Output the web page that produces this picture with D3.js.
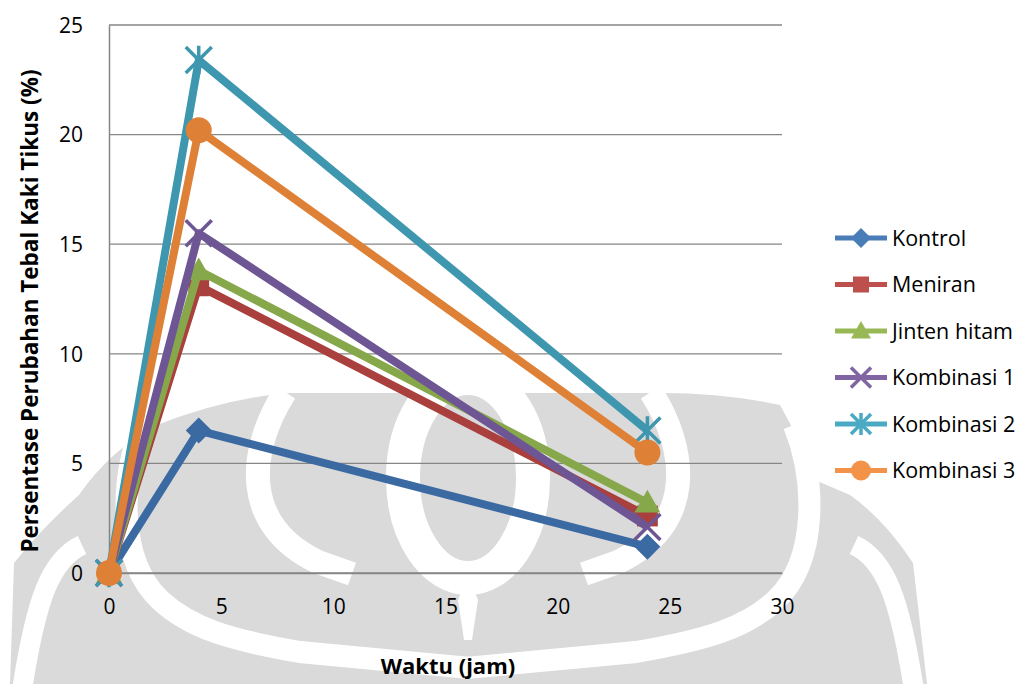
<!DOCTYPE html>
<html>
<head>
<meta charset="utf-8">
<script src="https://cdn.jsdelivr.net/npm/d3@7"></script>
<style>
  body { margin: 0; background: #fff; }
  svg text { font-family: "Open Sans", "Liberation Sans", sans-serif; fill: #000; }
</style>
</head>
<body>
<svg id="chart" width="1028" height="684"></svg>
<script>
// hours after induction
const hours = [0, 4, 24];
const seriesNames = ["Kontrol", "Meniran", "Jinten hitam", "Kombinasi 1", "Kombinasi 2", "Kombinasi 3"];
const kontrol = [0, 6.5, 1.2];
const meniran = [0, 13.1, 2.6];
const jintenHitam = [0, 13.8, 3.2];
const kombinasi1 = [0, 15.5, 2.1];
const kombinasi2 = [0, 23.4, 6.5];
const kombinasi3 = [0, 20.2, 5.5];
const xTicks = [0, 5, 10, 15, 20, 25, 30];
const yTicks = [0, 5, 10, 15, 20, 25];

const lineColors = ["#3b6aa3", "#a9403e", "#86a84b", "#6e5593", "#3e97af", "#de8136"];
const legendColors = ["#4a7cb8", "#bd4f4c", "#98b856", "#8065a2", "#4aaac4", "#f3934a"];
const shapes = ["diamond", "square", "triangle", "x", "star", "circle"];

const values = [kontrol, meniran, jintenHitam, kombinasi1, kombinasi2, kombinasi3];
const series = seriesNames.map((name, i) => ({
  name,
  color: lineColors[i],
  legendColor: legendColors[i],
  shape: shapes[i],
  points: hours.map((h, j) => ({ x: h, y: values[i][j] })),
}));

const svg = d3.select("#chart");
const margin = { left: 109, right: 246, top: 25, bottom: 111 };
const width = 1028, height = 684;

const x = d3.scaleLinear().domain([0, 30]).range([margin.left, width - margin.right]);
const y = d3.scaleLinear().domain([0, 25]).range([height - margin.bottom, margin.top]);

// faint page watermark behind the chart (rough copy of the logo)
const wm = svg.append("g");
wm.append("path")
  .attr("d", "M10,684 L14,563 Q40,530 79,495 Q110,450 157,425 Q220,400 285,393 " +
    "L653,393 Q720,392 780,405 Q800,440 815,480 L850,495 Q885,520 913,563 L927,684 Z")
  .attr("fill", "#dadada");
const wmWhite = (g) => {
  // inner C-shaped band
  g.append("path")
    .attr("d", "M285,392 C248,450 240,525 318,562 L352,574")
    .attr("fill", "none").attr("stroke", "#fff").attr("stroke-width", 24);
  // outer band
  g.append("path")
    .attr("d", "M142,425 C120,480 118,560 160,600 C190,628 230,640 300,652 L470,668")
    .attr("fill", "none").attr("stroke", "#fff").attr("stroke-width", 22);
  // far band
  g.append("path")
    .attr("d", "M82,545 C50,560 36,600 22,690")
    .attr("fill", "none").attr("stroke", "#fff").attr("stroke-width", 20);
};
wm.append("g").call(wmWhite);
wm.append("g").attr("transform", "translate(936,0) scale(-1,1)").call(wmWhite);
// central seed
wm.append("ellipse")
  .attr("cx", 468).attr("cy", 478).attr("rx", 65).attr("ry", 100)
  .attr("fill", "none").attr("stroke", "#fff").attr("stroke-width", 34);
wm.append("path")
  .attr("d", "M468,575 L478,600 L472,640 L464,640 L458,600 Z")
  .attr("fill", "#fff");

// gridlines
svg.append("g")
  .selectAll("line")
  .data(yTicks)
  .join("line")
  .attr("x1", x(0))
  .attr("x2", x(30))
  .attr("y1", (d) => y(d))
  .attr("y2", (d) => y(d))
  .attr("stroke", "#868686")
  .attr("stroke-width", 1.3);

// y axis
const yAxis = d3.axisLeft(y).tickValues(yTicks).tickSize(0).tickPadding(26);
svg.append("g")
  .attr("transform", `translate(${x(0)},0)`)
  .call(yAxis)
  .call((g) => {
    g.select(".domain").attr("stroke", "#868686").attr("stroke-width", 1.5);
    g.selectAll(".tick text").style("font-size", "21px").attr("dy", "0.35em");
  });

// x axis
const xAxis = d3.axisBottom(x).tickValues(xTicks).tickSize(0).tickPadding(26);
svg.append("g")
  .attr("transform", `translate(0,${y(0)})`)
  .call(xAxis)
  .call((g) => {
    g.select(".domain").attr("stroke", "#868686").attr("stroke-width", 1.5);
    g.selectAll(".tick text").style("font-size", "21px");
  });

// axis titles
svg.append("text")
  .attr("transform", `translate(38,${(y(0) + y(25)) / 2 + 12}) rotate(-90)`)
  .attr("text-anchor", "middle")
  .style("font-size", "22.5px")
  .style("font-weight", "bold")
  .text("Persentase Perubahan Tebal Kaki Tikus (%)");

svg.append("text")
  .attr("x", 448)
  .attr("y", 674)
  .attr("text-anchor", "middle")
  .style("font-size", "22px")
  .style("font-weight", "bold")
  .text("Waktu (jam)");

// marker drawing
const drawMarker = (sel, shape, color, s) => {
  if (shape === "diamond") {
    sel.append("path").attr("d", `M0,${-s}L${s},0L0,${s}L${-s},0Z`).attr("fill", color);
  } else if (shape === "square") {
    sel.append("rect").attr("x", -s * 0.8).attr("y", -s * 0.8)
      .attr("width", s * 1.6).attr("height", s * 1.6).attr("fill", color);
  } else if (shape === "triangle") {
    sel.append("path").attr("d", `M0,${-s}L${s},${s * 0.75}L${-s},${s * 0.75}Z`).attr("fill", color);
  } else if (shape === "x") {
    sel.append("path").attr("d", `M${-s},${-s}L${s},${s}M${-s},${s}L${s},${-s}`)
      .attr("stroke", color).attr("stroke-width", 3.5);
  } else if (shape === "star") {
    sel.append("path")
      .attr("d", `M${-s},${-s}L${s},${s}M${-s},${s}L${s},${-s}M0,${-s * 1.1}L0,${s * 1.1}`)
      .attr("stroke", color).attr("stroke-width", 3.5);
  } else {
    sel.append("circle").attr("r", s).attr("fill", color);
  }
};

const line = d3.line().x((d) => x(d.x)).y((d) => y(d.y));

const seriesGroup = svg.append("g");
series.forEach((s) => {
  const g = seriesGroup.append("g");
  g.append("path")
    .datum(s.points)
    .attr("d", line)
    .attr("fill", "none")
    .attr("stroke", s.color)
    .attr("stroke-width", 8)
    .attr("stroke-linejoin", "round");
  g.selectAll(".pt")
    .data(s.points)
    .join("g")
    .attr("class", "pt")
    .attr("transform", (d) => `translate(${x(d.x)},${y(d.y)})`)
    .each(function () {
      drawMarker(d3.select(this), s.shape, s.color, 13);
    });
});

// legend
const legend = svg.append("g").attr("transform", "translate(835,238)");
series.forEach((s, i) => {
  const row = legend.append("g").attr("transform", `translate(0,${i * 46.5})`);
  row.append("line").attr("x1", 0).attr("x2", 52).attr("y1", 0).attr("y2", 0)
    .attr("stroke", s.legendColor).attr("stroke-width", 5);
  const m = row.append("g").attr("transform", "translate(26,0)");
  drawMarker(m, s.shape, s.legendColor, 10);
  row.append("text")
    .attr("x", 57)
    .attr("y", 0)
    .attr("dy", "0.35em")
    .style("font-size", "21.5px")
    .text(s.name);
});
</script>
</body>
</html>
